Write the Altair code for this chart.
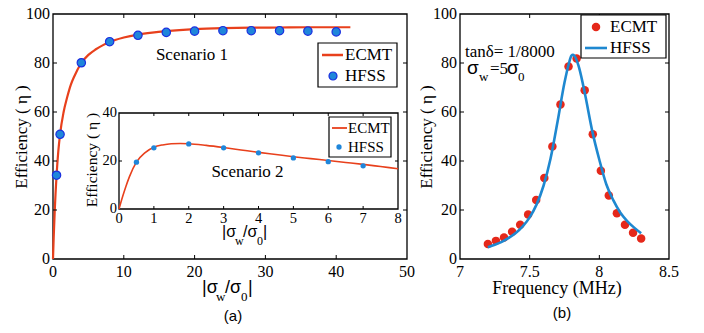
import altair as alt
import pandas as pd

# ---------------- data ----------------
# (a) Scenario 1 (main panel)
s1_ecmt_x = [0, 0.1, 0.25, 0.5, 0.75, 1, 1.5, 2, 2.5, 3, 4, 5, 6, 7, 8, 10, 12, 14, 16, 20, 24, 28, 32, 36, 42]
s1_ecmt_y = [0, 9, 20, 34, 44, 51, 60, 66, 71, 74.5, 80, 83.3, 85.5, 87.2, 88.6, 90.4, 91.6, 92.4, 93.0, 93.8, 94.2, 94.4, 94.5, 94.6, 94.6]
s1_hfss_x = [0.5, 1, 4, 8, 12, 16, 20, 24, 28, 32, 36, 40]
s1_hfss_y = [34.2, 50.9, 80.1, 88.7, 91.3, 92.5, 93.0, 93.2, 93.2, 93.2, 93.0, 92.7]

# (a) inset, Scenario 2
s2_ecmt_x = [0, 0.1, 0.2, 0.3, 0.5, 0.75, 1, 1.25, 1.5, 1.75, 2, 2.5, 3, 3.5, 4, 4.5, 5, 5.5, 6, 6.5, 7, 7.5, 8]
s2_ecmt_y = [0, 5, 9.5, 13.5, 19.5, 23.5, 25.7, 26.7, 27.2, 27.3, 27.2, 26.5, 25.6, 24.6, 23.6, 22.7, 21.8, 21.0, 20.2, 19.4, 18.6, 17.7, 16.8]
s2_hfss_x = [0.5, 1, 2, 3, 4, 5, 6, 7]
s2_hfss_y = [19.5, 25.5, 27.1, 25.5, 23.4, 21.3, 19.7, 18.0]

# (b) frequency sweep
b_ecmt_f = [7.2, 7.258, 7.316, 7.374, 7.432, 7.489, 7.547, 7.605, 7.663, 7.721,
            7.779, 7.837, 7.895, 7.953, 8.011, 8.068, 8.126, 8.184, 8.242, 8.3]
b_ecmt_y = [6.1, 7.4, 8.8, 11.1, 14.0, 18.2, 24.1, 33.1, 45.9, 63.1,
            78.6, 81.8, 68.9, 50.9, 36.0, 25.9, 18.7, 14.0, 10.7, 8.4]
b_hfss_f = [7.2, 7.25, 7.3, 7.35, 7.4, 7.45, 7.5, 7.55, 7.6, 7.65, 7.7, 7.75, 7.78, 7.8, 7.81,
            7.82, 7.85, 7.88, 7.9, 7.95, 8.0, 8.05, 8.1, 8.15, 8.2, 8.25, 8.3]
b_hfss_y = [4.8, 5.8, 7.0, 8.6, 10.6, 13.3, 17.0, 22.3, 30, 41, 56, 72, 79.5, 83, 83.3,
            83, 79, 72, 66.5, 52, 40.5, 30.5, 24, 19, 15.5, 12.8, 10.5]

# tick values and their labels
a_xticks = [0, 10, 20, 30, 40, 50]
a_xlabels = ["0", "10", "20", "30", "40", "50"]
a_yticks = [0, 20, 40, 60, 80, 100]
a_ylabels = ["0", "20", "40", "60", "80", "100"]
i_xticks = [0, 1, 2, 3, 4, 5, 6, 7, 8]
i_xlabels = ["0", "1", "2", "3", "4", "5", "6", "7", "8"]
i_yticks = [0, 20, 40]
i_ylabels = ["0", "20", "40"]
b_xticks = [7, 7.5, 8, 8.5]
b_xlabels = ["7", "7.5", "8", "8.5"]
b_yticks = [0, 20, 40, 60, 80, 100]
b_ylabels = ["0", "20", "40", "60", "80", "100"]

# ---------------- style ----------------
SERIF = "Liberation Serif"
SANS = "Liberation Sans"
RED_LINE = "#E8401C"
RED_DOT = "#E5281A"
BLUE_FILL = "#1F86DA"
BLUE_EDGE = "#1A2FE0"
BLUE_LINE = "#1E88D0"
W, H = 688, 317

one = pd.DataFrame({"k": [0]})


def frame(x0, x1, y0, y1, fill="transparent", sw=1.3):
    return alt.Chart(one).mark_rect(fill=fill, stroke="black", strokeWidth=sw).encode(
        x=alt.value(x0), x2=alt.value(x1), y=alt.value(y0), y2=alt.value(y1))


def xticks(vals, xs, ybot, ytop, L=4):
    d = pd.DataFrame({"v": vals})
    b = alt.Chart(d).mark_rule(color="black", strokeWidth=1).encode(
        x=alt.X("v:Q", scale=xs, axis=None), y=alt.value(ybot), y2=alt.value(ybot - L))
    t = alt.Chart(d).mark_rule(color="black", strokeWidth=1).encode(
        x=alt.X("v:Q", scale=xs, axis=None), y=alt.value(ytop), y2=alt.value(ytop + L))
    return [b, t]


def yticks(vals, ys, xl, xr, L=4):
    d = pd.DataFrame({"v": vals})
    l = alt.Chart(d).mark_rule(color="black", strokeWidth=1).encode(
        y=alt.Y("v:Q", scale=ys, axis=None), x=alt.value(xl), x2=alt.value(xl + L))
    r = alt.Chart(d).mark_rule(color="black", strokeWidth=1).encode(
        y=alt.Y("v:Q", scale=ys, axis=None), x=alt.value(xr), x2=alt.value(xr - L))
    return [l, r]


def xlabels(vals, labs, xs, y, size=16):
    d = pd.DataFrame({"v": vals, "t": labs})
    return alt.Chart(d).mark_text(font=SERIF, fontSize=size, color="black", align="center",
                                  baseline="middle").encode(
        x=alt.X("v:Q", scale=xs, axis=None), y=alt.value(y), text="t:N")


def ylabels(vals, labs, ys, x, size=16):
    d = pd.DataFrame({"v": vals, "t": labs})
    return alt.Chart(d).mark_text(font=SERIF, fontSize=size, color="black", align="right",
                                  baseline="middle").encode(
        y=alt.Y("v:Q", scale=ys, axis=None), x=alt.value(x), text="t:N")


def txt(s, x, y, size=17, font=SERIF, align="left", baseline="middle", angle=0):
    return alt.Chart(one).mark_text(text=s, align=align, baseline=baseline, font=font,
                                    fontSize=size, angle=angle, color="black").encode(
        x=alt.value(x), y=alt.value(y))


def hrule(x0, x1, y, color, width):
    return alt.Chart(one).mark_rule(color=color, strokeWidth=width).encode(
        x=alt.value(x0), x2=alt.value(x1), y=alt.value(y))


def dot(x, y, size, fill, stroke=None, sw=0):
    kw = dict(shape="circle", filled=True, fill=fill, size=size, opacity=1)
    if stroke:
        kw.update(stroke=stroke, strokeWidth=sw)
    return alt.Chart(one).mark_point(**kw).encode(x=alt.value(x), y=alt.value(y))


# ---------------- panel (a) main ----------------
AX0, AX1, AY0, AY1 = 45, 399, 251, 6
xa = alt.Scale(domain=[0, 50], range=[AX0, AX1], nice=False, zero=False)
ya = alt.Scale(domain=[0, 100], range=[AY0, AY1], nice=False, zero=False)

df_a_line = pd.DataFrame({"x": s1_ecmt_x, "y": s1_ecmt_y})
df_a_pts = pd.DataFrame({"x": s1_hfss_x, "y": s1_hfss_y})

a_line = alt.Chart(df_a_line).mark_line(color=RED_LINE, strokeWidth=2.2, interpolate="monotone").encode(
    x=alt.X("x:Q", scale=xa, axis=None), y=alt.Y("y:Q", scale=ya, axis=None))
a_pts = alt.Chart(df_a_pts).mark_point(shape="circle", filled=True, fill=BLUE_FILL, stroke=BLUE_EDGE,
                                       strokeWidth=1.2, size=70, opacity=1).encode(
    x=alt.X("x:Q", scale=xa, axis=None), y=alt.Y("y:Q", scale=ya, axis=None))

panel_a = alt.layer(frame(AX0, AX1, AY1, AY0), a_line, a_pts,
                    *xticks(a_xticks[1:-1], xa, AY0, AY1), *yticks(a_yticks[1:-1], ya, AX0, AX1),
                    xlabels(a_xticks, a_xlabels, xa, 264), ylabels(a_yticks, a_ylabels, ya, 42))

# ---------------- panel (a) inset ----------------
IX0, IX1, IY0, IY1 = 111, 390, 201, 105
xi = alt.Scale(domain=[0, 8], range=[IX0, IX1], nice=False, zero=False)
yi = alt.Scale(domain=[0, 40], range=[IY0, IY1], nice=False, zero=False)

df_i_line = pd.DataFrame({"x": s2_ecmt_x, "y": s2_ecmt_y})
df_i_pts = pd.DataFrame({"x": s2_hfss_x, "y": s2_hfss_y})

i_line = alt.Chart(df_i_line).mark_line(color=RED_LINE, strokeWidth=1.6, interpolate="monotone").encode(
    x=alt.X("x:Q", scale=xi, axis=None), y=alt.Y("y:Q", scale=yi, axis=None))
i_pts = alt.Chart(df_i_pts).mark_point(shape="circle", filled=True, fill=BLUE_FILL, size=28,
                                       opacity=1).encode(
    x=alt.X("x:Q", scale=xi, axis=None), y=alt.Y("y:Q", scale=yi, axis=None))

panel_i = alt.layer(frame(IX0, IX1, IY1, IY0, fill="white"), i_line, i_pts,
                    *xticks(i_xticks[1:-1], xi, IY0, IY1, L=3), *yticks(i_yticks[1:-1], yi, IX0, IX1, L=3),
                    xlabels(i_xticks, i_xlabels, xi, 211, size=14.5),
                    ylabels(i_yticks, i_ylabels, yi, 109, size=14.5))

# ---------------- panel (b) ----------------
BX0, BX1, BY0, BY1 = 452, 661, 251, 6
xb = alt.Scale(domain=[7, 8.5], range=[BX0, BX1], nice=False, zero=False)
yb = alt.Scale(domain=[0, 100], range=[BY0, BY1], nice=False, zero=False)

df_b_line = pd.DataFrame({"x": b_hfss_f, "y": b_hfss_y})
df_b_pts = pd.DataFrame({"x": b_ecmt_f, "y": b_ecmt_y})

b_line = alt.Chart(df_b_line).mark_line(color=BLUE_LINE, strokeWidth=2.6, interpolate="monotone").encode(
    x=alt.X("x:Q", scale=xb, axis=None), y=alt.Y("y:Q", scale=yb, axis=None))
b_pts = alt.Chart(df_b_pts).mark_point(shape="circle", filled=True, fill=RED_DOT, size=72,
                                       opacity=1).encode(
    x=alt.X("x:Q", scale=xb, axis=None), y=alt.Y("y:Q", scale=yb, axis=None))

panel_b = alt.layer(frame(BX0, BX1, BY1, BY0), b_pts, b_line,
                    *xticks(b_xticks[1:-1], xb, BY0, BY1), *yticks(b_yticks[1:-1], yb, BX0, BX1),
                    xlabels(b_xticks, b_xlabels, xb, 264), ylabels(b_yticks, b_ylabels, yb, 449))

# ---------------- annotations / legends ----------------
ann = [
    # axis titles
    txt("Efficiency ( η )", 14, 129, size=17, align="center", angle=270),
    txt("Efficiency ( η )", 84, 152, size=15.5, align="center", angle=270),
    txt("Efficiency ( η )", 419, 129, size=17, align="center", angle=270),
    # |σw/σ0| main
    txt("|σ", 194, 285, size=18, font=SANS, baseline="alphabetic"),
    txt("w", 208, 293, size=13, baseline="alphabetic"),
    txt("/σ", 217, 285, size=18, font=SANS, baseline="alphabetic"),
    txt("0", 233, 293, size=13, baseline="alphabetic"),
    txt("|", 240, 285, size=18, font=SANS, baseline="alphabetic"),
    # |σw/σ0| inset
    txt("|σ", 214, 229, size=16, font=SANS, baseline="alphabetic"),
    txt("w", 227, 237, size=12, baseline="alphabetic"),
    txt("/σ", 235, 229, size=16, font=SANS, baseline="alphabetic"),
    txt("0", 249, 237, size=12, baseline="alphabetic"),
    txt("|", 255, 229, size=16, font=SANS, baseline="alphabetic"),
    # frequency title
    txt("Frequency (MHz)", 549, 281, size=18, align="center"),
    # scenario labels
    txt("Scenario 1", 184, 47, size=17, align="center"),
    txt("Scenario 2", 239.5, 164, size=17, align="center"),
    # panel labels
    txt("(a)", 225, 308, size=15, font=SANS, align="center"),
    txt("(b)", 554, 305, size=15, font=SANS, align="center"),
    # tanδ annotation
    txt("tanδ= 1/8000", 457, 49, size=17, baseline="alphabetic"),
    txt("σ", 459, 66, size=19, font=SANS, baseline="alphabetic"),
    txt("w", 471, 73, size=13, baseline="alphabetic"),
    txt("=5", 482, 66, size=17, baseline="alphabetic"),
    txt("σ", 499, 66, size=19, font=SANS, baseline="alphabetic"),
    txt("0", 510, 73, size=13, baseline="alphabetic"),
    # main legend
    frame(310, 389, 35, 79, fill="white", sw=1.2),
    hrule(314, 335, 47, RED_LINE, 2.5),
    txt("ECMT", 337, 47, size=17),
    dot(325, 68, 64, BLUE_FILL, BLUE_EDGE, 1.2),
    txt("HFSS", 337, 68, size=17),
    # inset legend
    frame(321, 383, 109, 149, fill="white", sw=1.2),
    hrule(324, 339, 120, RED_LINE, 1.8),
    txt("ECMT", 340, 120, size=15),
    dot(331, 139, 28, BLUE_FILL),
    txt("HFSS", 340, 139, size=15),
    # panel b legend
    frame(573, 658, 7, 50, fill="white", sw=1.2),
    dot(588, 19, 72, RED_DOT),
    txt("ECMT", 602, 19, size=17),
    hrule(577, 599, 40, BLUE_LINE, 2.6),
    txt("HFSS", 602, 40, size=17),
]

chart = alt.layer(panel_a, panel_i, panel_b, *ann).resolve_scale(
    x="independent", y="independent").properties(
    width=W, height=H, padding=0, autosize=alt.AutoSizeParams(type="none"),
    background="white").configure_view(strokeWidth=0)

chart.save("out.html", embed_options={"renderer": "svg", "actions": False})
